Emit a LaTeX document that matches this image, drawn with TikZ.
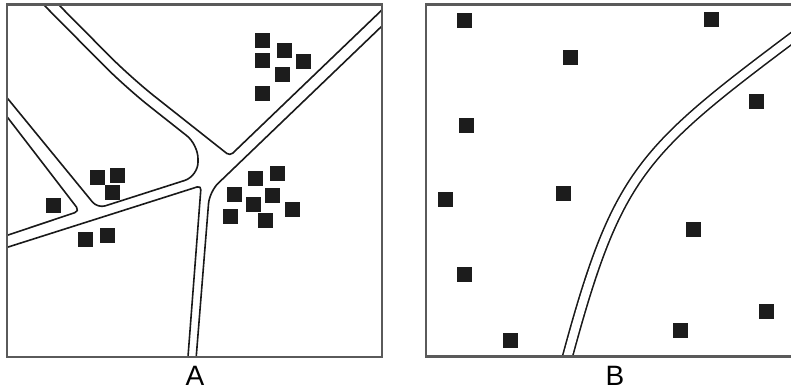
\documentclass[tikz,border=0pt]{standalone}
\usepackage{fontspec}
\setmainfont{Liberation Sans}
\definecolor{framegray}{RGB}{90,90,90}
\definecolor{housecol}{RGB}{28,28,28}
\begin{document}
\begin{tikzpicture}[x=1pt,y=-1pt,
  frame/.style={draw=framegray,line width=2.2pt},
  edge/.style={draw=black!90,line width=1.6pt,line join=round},
  house/.style={rectangle,fill=housecol,draw=none,minimum size=15pt,inner sep=0pt,outer sep=0pt},
  road/.style={draw=black!90,line width=1.6pt,double=white,double distance=8.2pt},
  lab/.style={font=\fontsize{28}{34}\selectfont,anchor=base,inner sep=0pt}]
\useasboundingbox (0,0) rectangle (791,390);
\fill[white] (0,0) rectangle (791,390);
% ---------- panel A : roads ----------
\begin{scope}
  \clip (7,4.5) rectangle (382,357);
  \draw[edge] (50,-4) [rounded corners=30pt] -- (131,77.7) [rounded corners=4pt] -- (229.9,155.9) -- (390,2.2);
  \draw[edge] (35,-4) [rounded corners=30pt] -- (125.5,87.3) [rounded corners=14pt] -- (198,144.6) -- (198,176.2) [rounded corners=8pt] -- (97.6,208.3) -- (0,89.2);
  \draw[edge] (0,107.6) [rounded corners=5pt] -- (79.6,211.1) -- (0,237.7);
  \draw[edge] (0,249.6) [rounded corners=4pt] -- (201.1,185.7) -- (187.6,362);
  \draw[edge] (390,18.3) [rounded corners=12pt] -- (209.5,191.6) -- (195.8,362);
\end{scope}
% ---------- panel B : road ----------
\begin{scope}
  \clip (426,4.5) rectangle (791,356.5);
  \draw[road] (566,362) .. controls (617,172) and (640,152) .. (800,32);
\end{scope}
% ---------- frames ----------
\draw[frame] (7,4.5) rectangle (382,357);
\draw[frame] (426,4.5) rectangle (794,356.5);
% ---------- houses A ----------
\node[house] (a1) at (262,41) {};
\node[house] (a2) at (284,51) {};
\node[house] (a3) at (262,61) {};
\node[house] (a4) at (303,62) {};
\node[house] (a5) at (282,75) {};
\node[house] (a6) at (262,94) {};
\node[house] (a7) at (97,177) {};
\node[house] (a8) at (117,175) {};
\node[house] (a9) at (112,192) {};
\node[house] (a10) at (53,205) {};
\node[house] (a11) at (85,239) {};
\node[house] (a12) at (107,235) {};
\node[house] (a13) at (255,178) {};
\node[house] (a14) at (277,173) {};
\node[house] (a15) at (234,194) {};
\node[house] (a16) at (272,195) {};
\node[house] (a17) at (253,204) {};
\node[house] (a18) at (292,209) {};
\node[house] (a19) at (230,216) {};
\node[house] (a20) at (265,220) {};
% ---------- houses B ----------
\node[house] (b1) at (464,21) {};
\node[house] (b2) at (711,20) {};
\node[house] (b3) at (570,58) {};
\node[house] (b4) at (756,102) {};
\node[house] (b5) at (466,126) {};
\node[house] (b6) at (445,199) {};
\node[house] (b7) at (563,193) {};
\node[house] (b8) at (693,229) {};
\node[house] (b9) at (464,274) {};
\node[house] (b10) at (766,311) {};
\node[house] (b11) at (680,330) {};
\node[house] (b12) at (510,340) {};
% ---------- labels ----------
\node[lab] (la) at (195,385.5) {A};
\node[lab] (lb) at (615,385.5) {B};
\end{tikzpicture}
\end{document}
